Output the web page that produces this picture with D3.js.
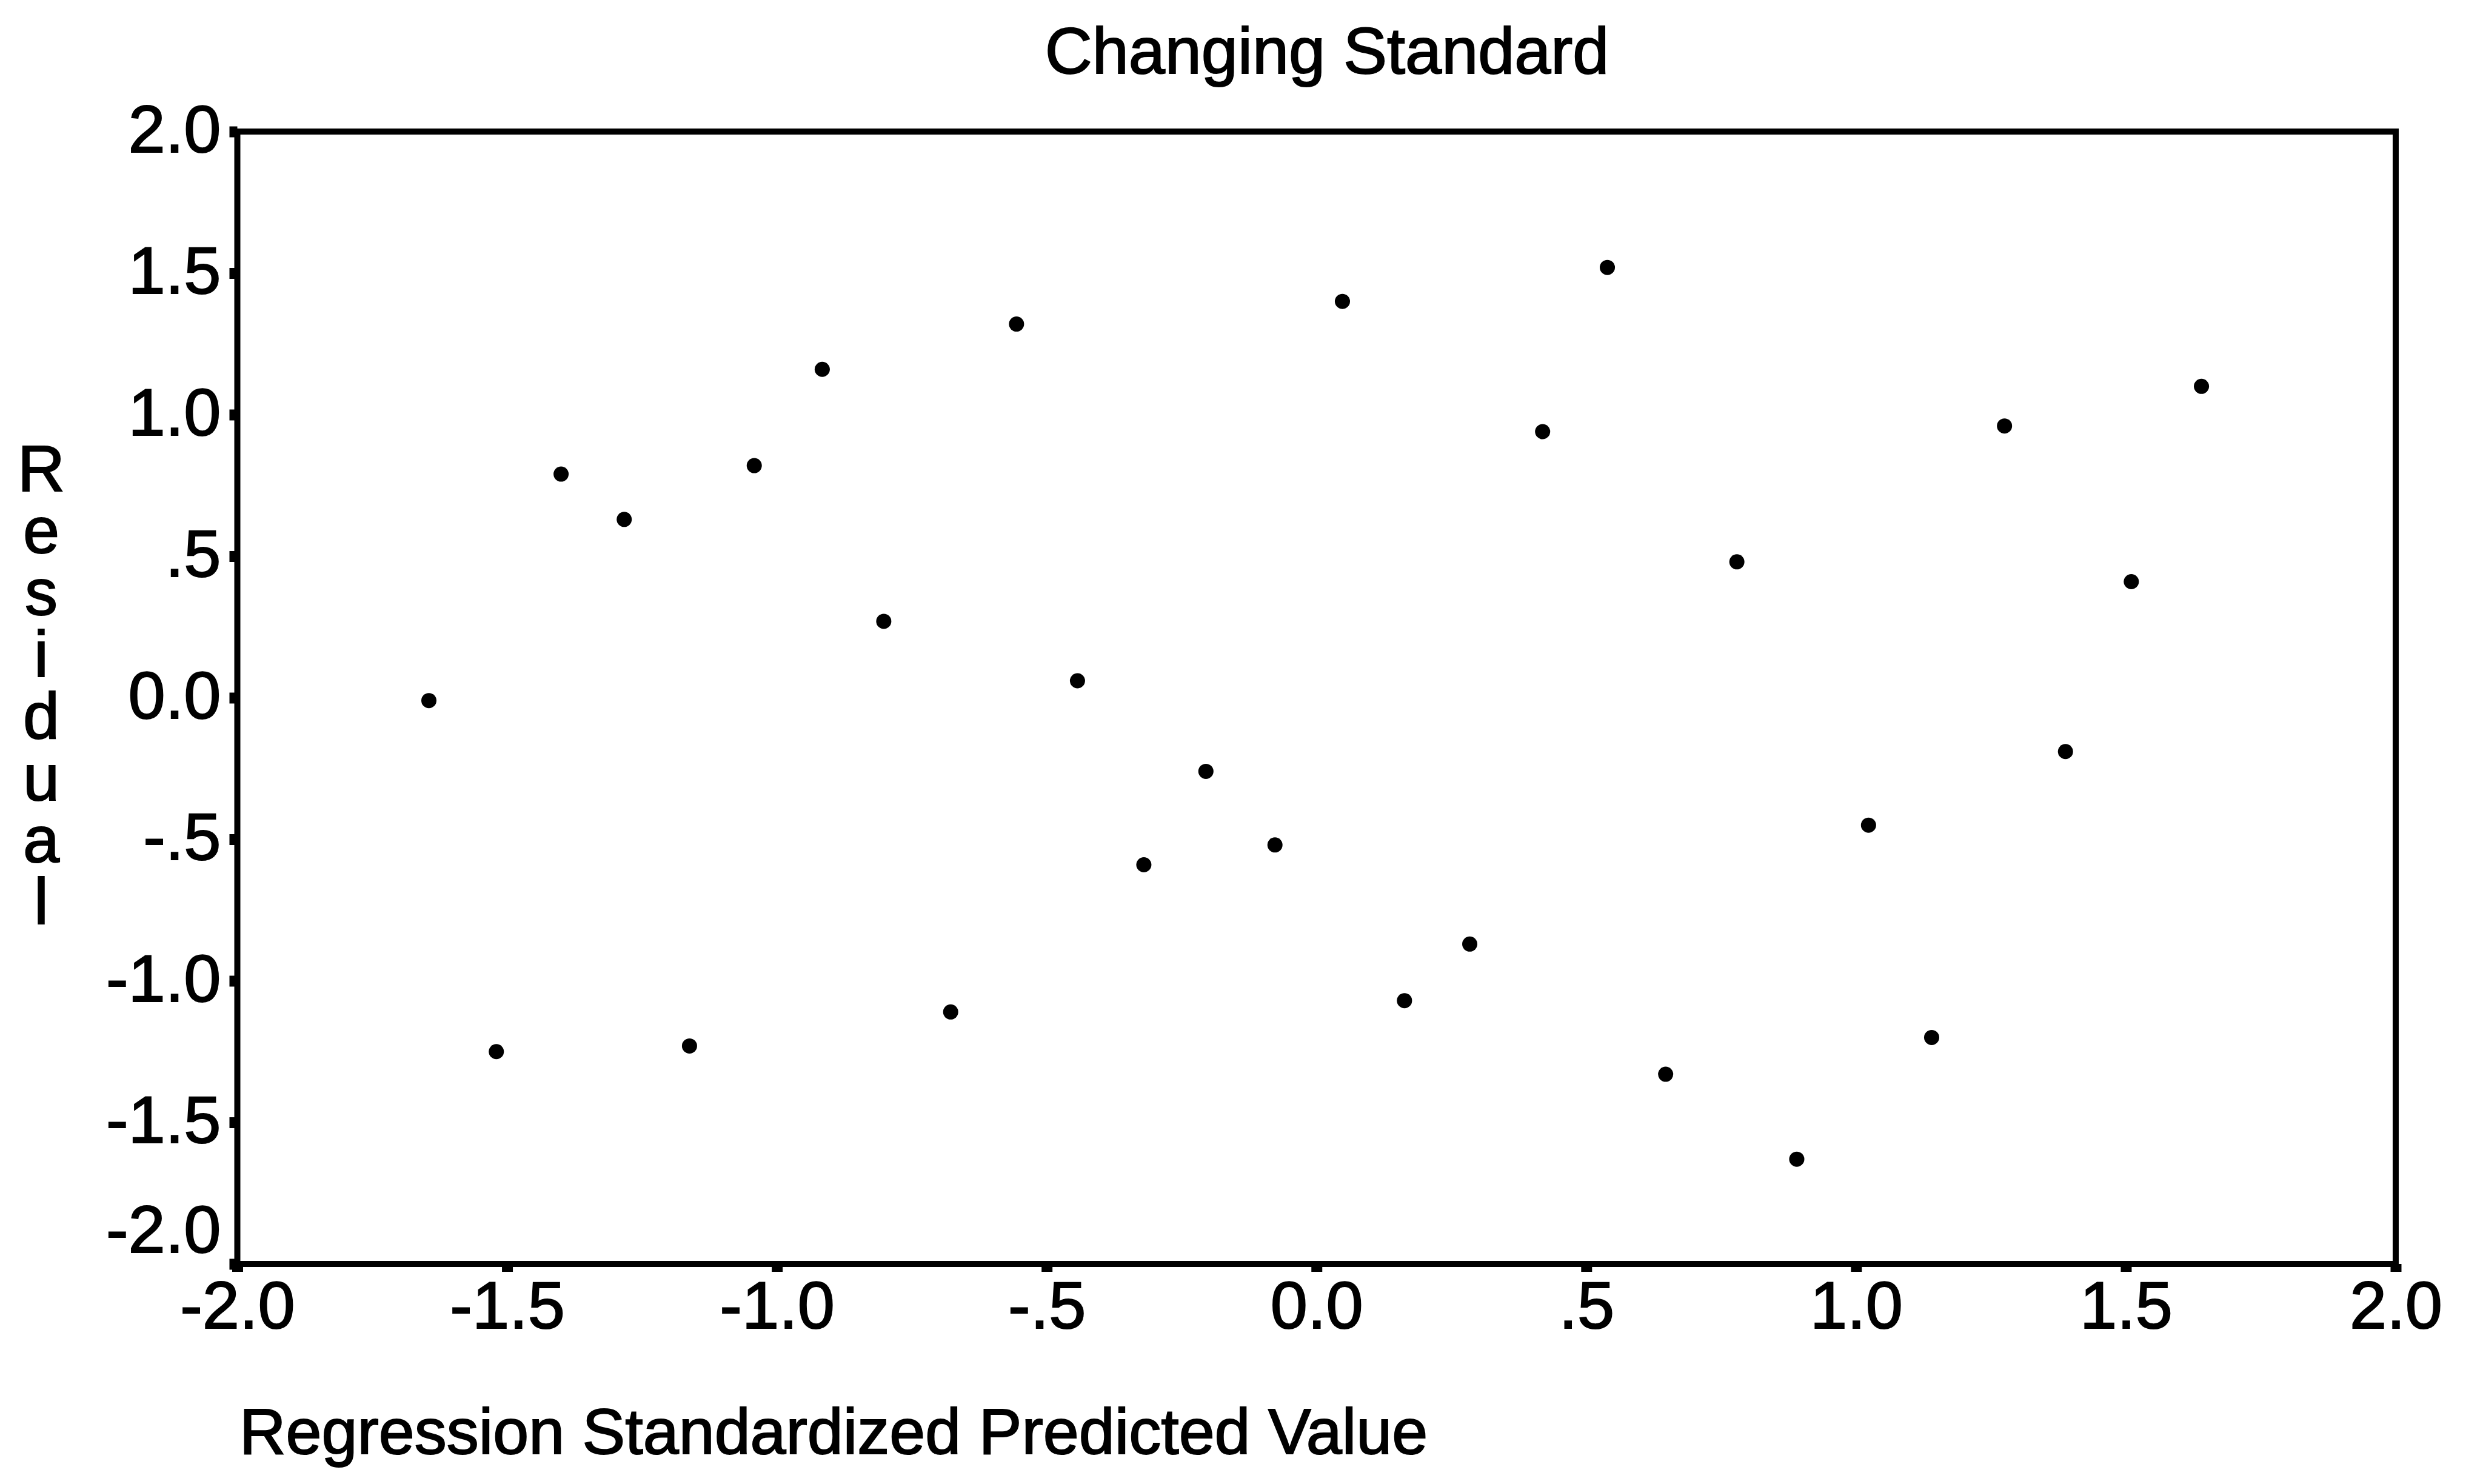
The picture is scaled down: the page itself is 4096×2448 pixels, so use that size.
<!DOCTYPE html>
<html>
<head>
    <meta charset="utf-8">
    <title>Changing Standard</title>
    <script src="https://d3js.org/d3.v7.min.js"></script>
    <style>
        body { margin: 0; background: white; }
        text {
            font-family: "Liberation Sans", Arial, sans-serif;
            fill: black;
            stroke: black;
            stroke-width: 2px;
        }
        .frame {
            fill: none;
            stroke: black;
            stroke-width: 10px;
        }
        .tick line {
            stroke: black;
            stroke-width: 18px;
        }
        .tick text { font-size: 110px; }
        .ytitle {
            writing-mode: vertical-lr;
            text-orientation: upright;
            letter-spacing: -19px;
        }
        circle { fill: black; }
    </style>
</head>
<body>
    <script type="text/javascript">
        // values
        let predicted = [-1.645, -1.520, -1.400, -1.283, -1.162, -1.042, -0.916, -0.802, -0.678, -0.556,
                         -0.443, -0.320, -0.205, -0.077, 0.048, 0.163, 0.284, 0.419, 0.539, 0.647,
                         0.779, 0.890, 1.023, 1.140, 1.275, 1.388, 1.510, 1.640];
        let residual = [-0.01, -1.25, 0.79, 0.63, -1.23, 0.82, 1.16, 0.27, -1.11, 1.32,
                        0.06, -0.59, -0.26, -0.52, 1.40, -1.07, -0.87, 0.94, 1.52, -1.33,
                        0.48, -1.63, -0.45, -1.20, 0.96, -0.19, 0.41, 1.10];

        let xTicks = [-2, -1.5, -1, -0.5, 0, 0.5, 1, 1.5, 2];
        let xTickLabels = ["-2.0", "-1.5", "-1.0", "-.5", "0.0", ".5", "1.0", "1.5", "2.0"];
        let yTicks = [2, 1.5, 1, 0.5, 0, -0.5, -1, -1.5, -2];
        let yTickLabels = ["2.0", "1.5", "1.0", ".5", "0.0", "-.5", "-1.0", "-1.5", "-2.0"];

        let title = "Changing Standard";
        let xTitle = "Regression Standardized Predicted Value";
        let yTitle = "Residual";

        let width = 4096, height = 2448;
        let plotLeft = 391.5, plotRight = 3952, plotTop = 217, plotBottom = 2085;

        let svg = d3.select("body").append("svg")
            .attr("width", width)
            .attr("height", height);

        let x = d3.scaleLinear().domain([-2, 2]).range([plotLeft, plotRight]);
        let y = d3.scaleLinear().domain([-2, 2]).range([plotBottom, plotTop]);

        // box round the plot
        svg.append("rect")
            .attr("class", "frame")
            .attr("x", x(-2))
            .attr("y", y(2))
            .attr("width", x(2) - x(-2))
            .attr("height", y(-2) - y(2));

        let xAxis = svg.append("g")
            .attr("transform", `translate(0,${plotBottom})`)
            .call(d3.axisBottom(x)
                .tickValues(xTicks)
                .tickFormat((d, i) => xTickLabels[i])
                .tickSize(13)
                .tickPadding(15));
        xAxis.select(".domain").remove();

        let yAxis = svg.append("g")
            .attr("transform", `translate(${plotLeft},0)`)
            .call(d3.axisLeft(y)
                .tickValues(yTicks)
                .tickFormat((d, i) => yTickLabels[i])
                .tickSize(13)
                .tickPadding(14));
        yAxis.select(".domain").remove();
        // the lowest label sits a little higher, clear of the x labels
        yAxis.selectAll(".tick text").attr("dy", d => d === -2 ? "-0.18em" : "0.30em");
        svg.selectAll(".tick text").attr("fill", "black");
        svg.selectAll("g").attr("font-family", null).attr("font-size", null);

        svg.append("g")
            .selectAll("circle")
            .data(predicted.map((d, i) => [d, residual[i]]))
            .join("circle")
            .attr("cx", d => x(d[0]))
            .attr("cy", d => y(d[1]))
            .attr("r", 12.5);

        svg.append("text")
            .attr("x", 2189)
            .attr("y", 121)
            .attr("text-anchor", "middle")
            .style("font-size", "108px")
            .text(title);

        svg.append("text")
            .attr("x", 395)
            .attr("y", 2398)
            .style("font-size", "106px")
            .text(xTitle);

        // y title is written one letter under the other
        svg.append("text")
            .attr("class", "ytitle")
            .attr("x", 68)
            .attr("y", 712)
            .style("font-size", "108px")
            .text(yTitle);
    </script>
</body>
</html>
